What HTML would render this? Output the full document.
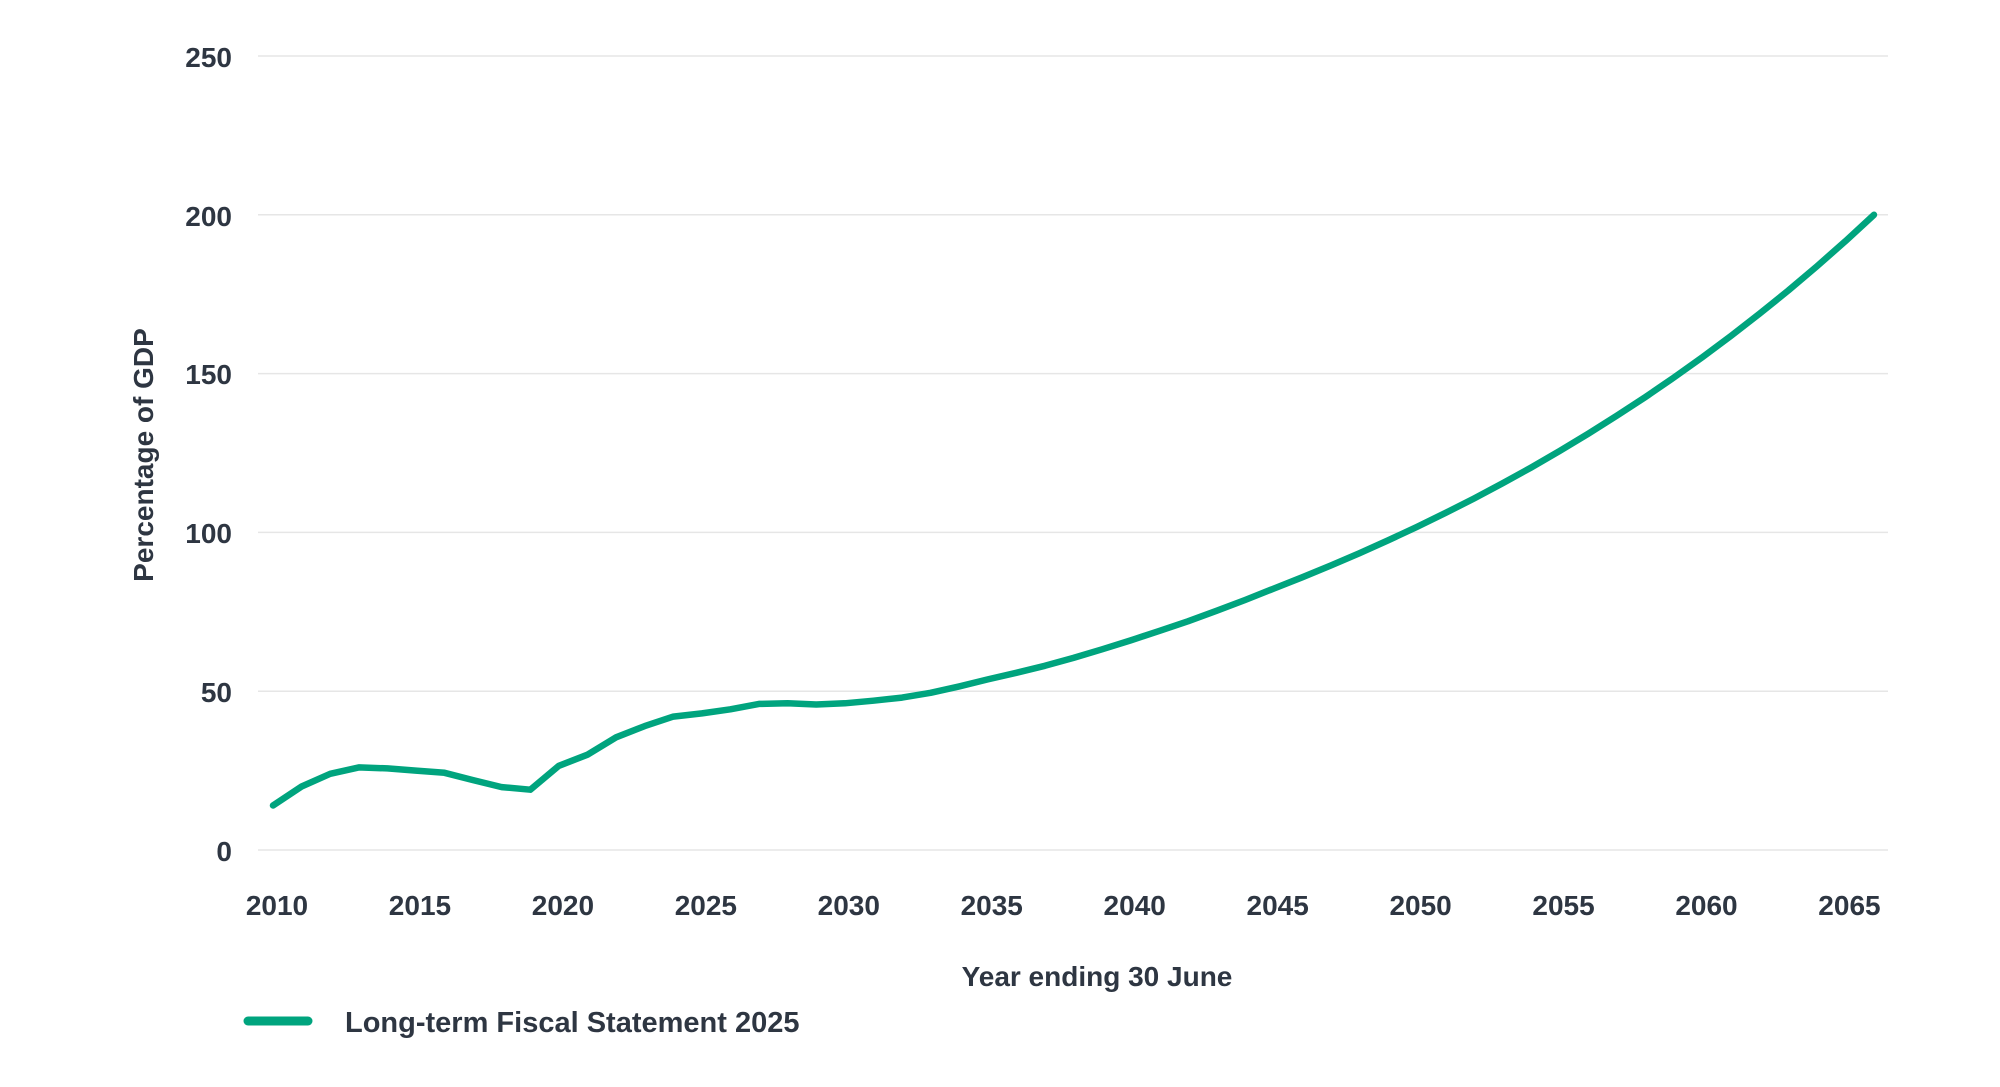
<!DOCTYPE html>
<html><head><meta charset="utf-8"><style>
html,body{margin:0;padding:0;background:#fff;}
svg{display:block;}
text{font-family:"Liberation Sans",Arial,sans-serif;fill:#2e3642;}
</style></head><body>
<svg id="s" width="2000" height="1087" viewBox="0 0 2000 1087" xmlns="http://www.w3.org/2000/svg">
<g stroke="#e6e6e6" stroke-width="1.5">
<line x1="258" x2="1888" y1="56" y2="56"/>
<line x1="258" x2="1888" y1="214.8" y2="214.8"/>
<line x1="258" x2="1888" y1="373.6" y2="373.6"/>
<line x1="258" x2="1888" y1="532.4" y2="532.4"/>
<line x1="258" x2="1888" y1="691.2" y2="691.2"/>
<line x1="258" x2="1888" y1="850" y2="850"/>
</g>
<g font-size="28" font-weight="bold" text-anchor="end">
<text x="232" y="67">250</text>
<text x="232" y="226">200</text>
<text x="232" y="384">150</text>
<text x="232" y="543">100</text>
<text x="232" y="702">50</text>
<text x="232" y="861">0</text>
</g>
<g id="xt" font-size="28" font-weight="bold" text-anchor="middle"></g>
<text x="1097" y="986" font-size="28" font-weight="bold" text-anchor="middle">Year ending 30 June</text>
<text transform="translate(153,455) rotate(-90)" font-size="28" font-weight="bold" text-anchor="middle">Percentage of GDP</text>
<line x1="248" x2="308" y1="1021" y2="1021" stroke="#00a47e" stroke-width="9" stroke-linecap="round"/>
<text x="345" y="1032" font-size="29" font-weight="bold">Long-term Fiscal Statement 2025</text>
<path id="p" fill="none" stroke="#00a47e" stroke-width="6.5" stroke-linejoin="round" stroke-linecap="round"/>
</svg>
<script>
var v=[14,20,24,26,25.7,25,24.3,22,19.8,19,26.5,30,35.5,39,42,43,44.3,46,46.2,45.8,46.2,47,48,49.5,51.5,53.7,55.8,58,60.5,63.2,66,69,72,75.3,78.7,82.3];
for(var y=2046;y<=2066;y++){v.push(82.3*Math.pow(200/82.3,(y-2045)/21));}
function X(y){return 273+(y-2010)*28.59;}
function Y(val){return 850-val*3.176;}
var d="";for(var i=0;i<v.length;i++){d+=(i?"L":"M")+X(2010+i).toFixed(1)+","+Y(v[i]).toFixed(1);}
document.getElementById("p").setAttribute("d",d);
var g=document.getElementById("xt"),h="";
for(var y=2010;y<=2065;y+=5){h+='<text x="'+(X(y)+4)+'" y="915">'+y+'</text>';}
g.innerHTML=h;
</script>
</body></html>
